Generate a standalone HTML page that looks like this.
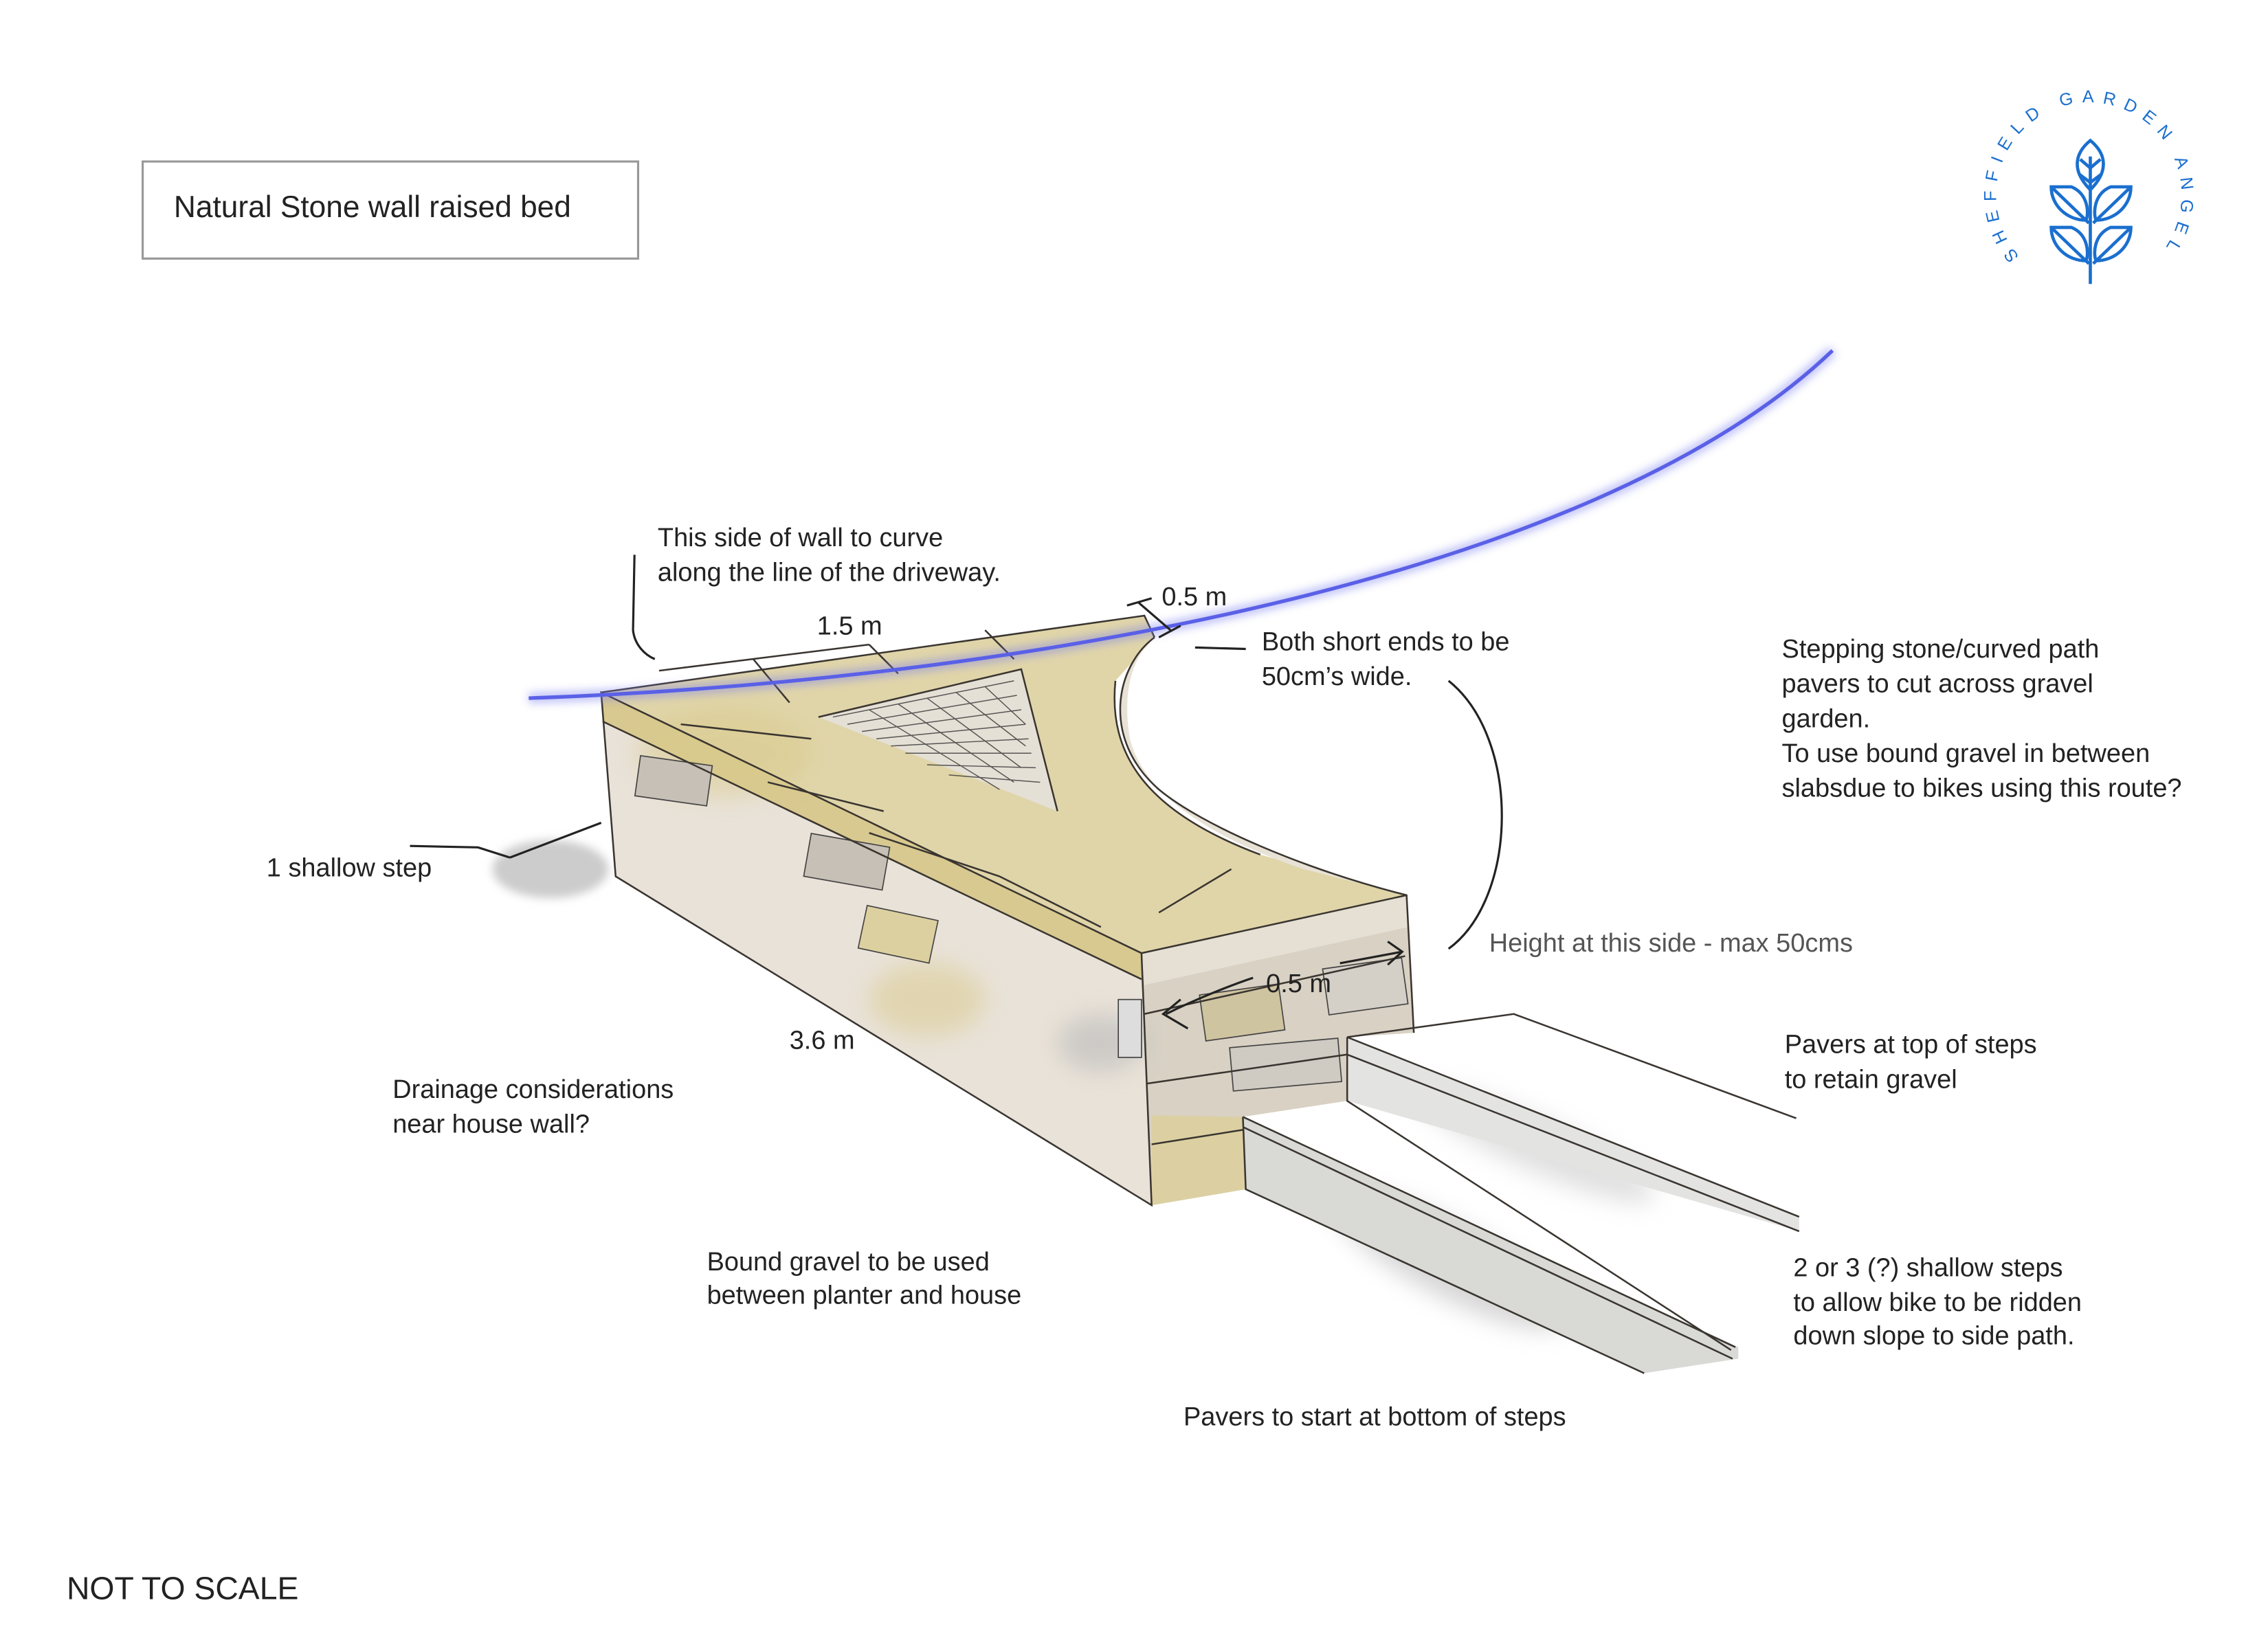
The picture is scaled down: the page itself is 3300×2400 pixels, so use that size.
<!DOCTYPE html>
<html><head><meta charset="utf-8"><style>
html,body{margin:0;padding:0;background:#fff;}
svg{display:block;}
text{font-family:"Liberation Sans",sans-serif;fill:#222;}
</style></head><body>
<svg width="3300" height="2400" viewBox="0 0 1550 1127" preserveAspectRatio="none" xmlns="http://www.w3.org/2000/svg">
<defs>
<filter id="bl" x="-20%" y="-50%" width="140%" height="200%"><feGaussianBlur stdDeviation="3"/></filter>
<filter id="bl2" x="-20%" y="-50%" width="140%" height="200%"><feGaussianBlur stdDeviation="8"/></filter>
<path id="arc" d="M1394,177 A64,64 0 1 1 1490,177"/>
</defs>
<rect width="1550" height="1127" fill="#fff"/>
<g transform="scale(0.99)">
<!-- title box -->
<rect x="98.5" y="111.5" width="342" height="67" fill="#fff" stroke="#999" stroke-width="1.5"/>
<text x="120" y="150" font-size="21">Natural Stone wall raised bed</text>

<!-- logo -->
<g fill="none" stroke="#1a6fcf" stroke-width="2.2">
<line x1="1443" y1="108" x2="1443" y2="196"/>
<path d="M1443,97 C1432,106 1430,118 1443,131 C1456,118 1454,106 1443,97Z"/>
<path d="M1436,110 L1443,116 L1450,110 M1435,120 L1443,126 L1451,120"/>
<path d="M1416,129 L1430,129 C1442,134 1442,148 1440,152 C1427,152 1416,142 1416,129Z M1416,129 L1442,154"/>
<path d="M1471,129 L1457,129 C1445,134 1445,148 1447,152 C1460,152 1471,142 1471,129Z M1471,129 L1445,154"/>
<path d="M1416,157 L1430,157 C1442,162 1442,176 1440,180 C1427,180 1416,170 1416,157Z M1416,157 L1442,182"/>
<path d="M1471,157 L1457,157 C1445,162 1445,176 1447,180 C1460,180 1471,170 1471,157Z M1471,157 L1445,182"/>
</g>
<text font-size="12" style="fill:#1a6fcf"><textPath href="#arc" textLength="285" lengthAdjust="spacing">SHEFFIELD GARDEN ANGEL</textPath></text>

<!-- shadows -->
<ellipse cx="380" cy="600" rx="40" ry="20" fill="#ccc" filter="url(#bl)"/>
<ellipse cx="1000" cy="870" rx="90" ry="25" fill="#bbb" opacity="0.6" transform="rotate(28 1000 870)" filter="url(#bl2)"/>
<ellipse cx="1060" cy="790" rx="90" ry="18" fill="#ccc" opacity="0.6" transform="rotate(24 1060 790)" filter="url(#bl2)"/>

<!-- steps -->
<path d="M930,716 L1242,840 L1242,850 L930,760Z" fill="#e3e3e1"/>
<path d="M858,771 L1200,930 L1200,938 L1135,948 L860,821Z" fill="#d9d9d6"/>

<!-- planter -->
<path d="M415,478 L788,658 L795,832 L425,605Z" fill="#e9e2d8"/>
<path d="M788,658 L971,618 L976,713 L930,716 L930,760 L858,771 L860,821 L795,832Z" fill="#d8d1c4"/>
<path d="M788,658 L971,618 L972,640 L790,680Z" fill="#e6e0d4"/>
<path d="M795,770 L858,771 L860,821 L795,832Z" fill="#dcd0a2"/>
<path d="M415,478 L790,425 L797,440 L770,470 C765,520 790,560 870,590 L971,618 L788,658Z" fill="#ddd0a0" opacity="0.9"/>
<path d="M415,478 L788,658 L788,676 L416,498Z" fill="#d8c990"/>
<path d="M797,440 C770,460 760,510 800,545 C830,570 900,600 971,618 L900,600 C840,580 790,550 780,510 C775,480 780,455 797,440Z" fill="#e8e2d6"/>
<path d="M565,495 L705,462 L730,560 Z" fill="#e5e0d6"/>
<g stroke="#333" stroke-width="0.7" opacity="0.8">
<path d="M575,495 L700,470 M585,500 L702,480 M595,505 L705,490 M605,510 L708,500 M615,515 L710,510 M625,520 L712,520 M640,528 L715,530 M655,535 L718,540 M600,490 L690,545 M620,486 L700,540 M640,482 L705,530 M660,478 L708,515 M680,474 L708,500"/>
</g>
<ellipse cx="500" cy="520" rx="60" ry="30" fill="#d9c98a" opacity="0.5" filter="url(#bl2)"/>
<ellipse cx="640" cy="690" rx="40" ry="25" fill="#d9c98a" opacity="0.5" filter="url(#bl2)"/>
<ellipse cx="760" cy="720" rx="30" ry="20" fill="#bbb" opacity="0.6" filter="url(#bl2)"/>
<g fill="#c7c0b6" stroke="#444" stroke-width="0.8">
<rect x="440" y="525" width="50" height="28" transform="rotate(8 465 539)"/>
<rect x="557" y="580" width="55" height="30" transform="rotate(10 585 595)"/>
<rect x="595" y="630" width="50" height="30" fill="#ddd0a0" transform="rotate(12 620 645)"/>
<rect x="772" y="690" width="16" height="40" fill="#ddd"/>
<rect x="830" y="683" width="55" height="32" fill="#cfc4a0" transform="rotate(-8 857 699)"/>
<rect x="915" y="665" width="55" height="32" fill="#d4cfc7" transform="rotate(-8 942 681)"/>
<rect x="850" y="720" width="75" height="30" fill="#cfcac2" transform="rotate(-5 887 735)"/>
</g>
<g fill="none" stroke="#3a3530" stroke-width="1.2">
<path d="M415,478 L788,658 L795,832 L425,605 Z"/>
<path d="M416,498 L788,676"/>
<path d="M415,478 L790,425 L797,440"/>
<path d="M455,463 L600,445 M520,455 L545,485 M600,445 L620,465 M680,435 L700,455"/>
<path d="M797,440 C770,460 760,510 800,545 C830,570 900,600 971,618 L976,713"/>
<path d="M770,470 C765,520 790,560 870,590"/>
<path d="M788,658 L971,618"/>
<path d="M790,700 L970,660 M792,748 L930,728 M795,790 L858,780"/>
<path d="M470,500 L560,510 M530,540 L610,560 M600,575 L690,605 M690,605 L760,640 M850,600 L800,630"/>
<path d="M930,716 L1045,700 L1240,772"/>
<path d="M930,716 L1242,840 M930,728 L1242,850"/>
<path d="M930,716 L930,760 L1195,932"/>
<path d="M858,771 L860,821 L1135,948"/>
<path d="M858,771 L1198,930 M858,778 L1196,938"/>
<path d="M565,495 L705,462 L730,560"/>
</g>

<!-- blue curve -->
<path d="M365,482 C700,470 1100,400 1265,242" fill="none" stroke="#7a7ff0" stroke-width="7" opacity="0.5" filter="url(#bl)"/>
<path d="M365,482 C700,470 1100,400 1265,242" fill="none" stroke="#5a60e6" stroke-width="2.5"/>

<!-- annotations lines -->
<g fill="none" stroke="#222" stroke-width="1.5">
<path d="M438,383 L437,435 C438,445 445,452 452,455"/>
<path d="M778,418 L795,413 M786,416 L808,435 M800,440 L815,432"/>
<path d="M825,447 L860,448"/>
<path d="M1000,470 C1050,510 1048,620 1000,655"/>
<path d="M283,584 L330,585 L352,592"/>
<path d="M865,675 C850,680 825,690 805,700 M815,690 L803,700 L820,710"/>
<path d="M925,665 L968,657 M958,650 L968,657 L958,666"/>
<path d="M352,592 L415,568"/>
</g>

<!-- labels -->
<g font-size="18">
<text x="454" y="377">This side of wall to curve</text>
<text x="454" y="401">along the line of the driveway.</text>
<text x="564" y="438">1.5 m</text>
<text x="802" y="418">0.5 m</text>
<text x="871" y="449">Both short ends to be</text>
<text x="871" y="473">50cm’s wide.</text>
<text x="1230" y="454">Stepping stone/curved path</text>
<text x="1230" y="478">pavers to cut across gravel</text>
<text x="1230" y="502">garden.</text>
<text x="1230" y="526">To use bound gravel in between</text>
<text x="1230" y="550">slabsdue to bikes using this route?</text>
<text x="184" y="605">1 shallow step</text>
<text x="1028" y="657" style="fill:#555">Height at this side - max 50cms</text>
<text x="874" y="685">0.5 m</text>
<text x="545" y="724">3.6 m</text>
<text x="1232" y="727">Pavers at top of steps</text>
<text x="1232" y="751">to retain gravel</text>
<text x="271" y="758">Drainage considerations</text>
<text x="271" y="782">near house wall?</text>
<text x="488" y="877">Bound gravel to be used</text>
<text x="488" y="900">between planter and house</text>
<text x="1238" y="881">2 or 3 (?) shallow steps</text>
<text x="1238" y="905">to allow bike to be ridden</text>
<text x="1238" y="928">down slope to side path.</text>
<text x="817" y="984">Pavers to start at bottom of steps</text>
</g>
<text x="46" y="1104" font-size="22">NOT TO SCALE</text>
</g>
</svg>
</body></html>
